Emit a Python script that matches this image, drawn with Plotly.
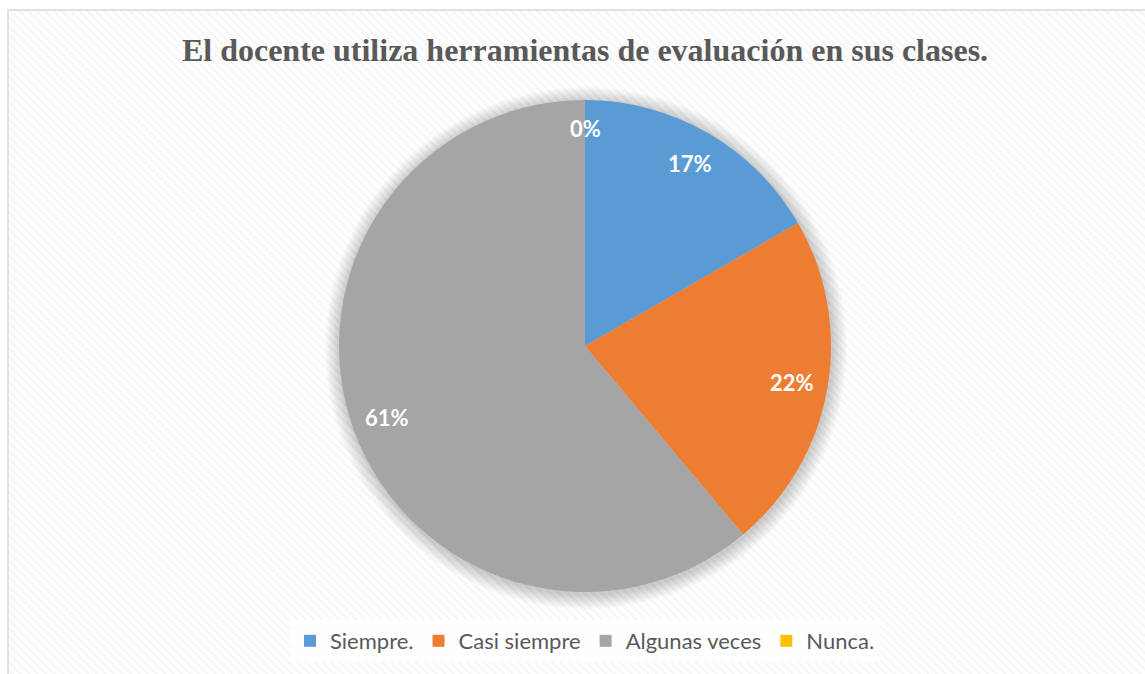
import math
import plotly.graph_objects as go

# Data
categories = ["Siempre.", "Casi siempre", "Algunas veces", "Nunca."]
counts = [3, 4, 11, 0]
colors = ["#5B9BD5", "#ED7D31", "#A5A5A5", "#FFC000"]
title_text = "El docente utiliza herramientas de evaluación en sus clases."

W, H = 1145, 674
cx, cy, R = 585, 328, 246  # pie centre (px from bottom-left) and radius

fig = go.Figure()

# Hatched chart-area background
bx0, by1 = 8, H - 10
fig.add_trace(go.Scatter(
    x=[bx0, W + 5, W + 5, bx0, bx0], y=[-5, -5, by1, by1, -5],
    mode="lines", fill="toself", line=dict(width=0),
    fillcolor="white",
    fillpattern=dict(shape="\\", fgcolor="#ececec", bgcolor="white", size=6, solidity=0.4),
    hoverinfo="skip", showlegend=False))

# Soft shadow around the pie
for i in range(10, 0, -1):
    r = R + i * 1.5
    ang = [k * 2 * math.pi / 180 for k in range(181)]
    fig.add_trace(go.Scatter(
        x=[cx + 1 + r * math.cos(a) for a in ang],
        y=[cy - 2 + r * math.sin(a) for a in ang],
        mode="lines", fill="toself", line=dict(width=0),
        fillcolor="rgba(0,0,0,0.018)", hoverinfo="skip", showlegend=False))

fig.update_xaxes(range=[0, W], visible=False, domain=[0, 1], fixedrange=True)
fig.update_yaxes(range=[0, H], visible=False, domain=[0, 1], fixedrange=True)

total = sum(counts)
texts = [f"{round(100 * c / total)}%" for c in counts]

fig.add_trace(go.Pie(
    labels=categories, values=counts, sort=False, direction="clockwise", rotation=0,
    marker=dict(colors=colors, line=dict(width=0)),
    textinfo="none",
    domain=dict(x=[(cx - R) / W, (cx + R) / W], y=[(cy - R) / H, (cy + R) / H]),
    showlegend=True, hoverinfo="label+percent"))

# Data labels placed along each slice's mid-angle (Excel-like "best fit")
label_font = dict(family="Lato, Open Sans, sans-serif", size=22, color="white", weight="bold")
cum = 0
for c, t in zip(counts, texts):
    mid = (cum + c / 2) / total * 2 * math.pi  # clockwise from 12 o'clock
    cum += c
    rr = R * (0.885 if c == 0 else 0.855)
    fig.add_annotation(
        x=(cx + rr * math.sin(mid)) / W, y=(cy + rr * math.cos(mid)) / H,
        xref="paper", yref="paper", xanchor="center", yanchor="middle",
        text=t, showarrow=False, font=label_font)

fig.add_shape(type="rect", xref="paper", yref="paper",
              x0=bx0 / W, x1=(W + 5) / W, y0=-0.01, y1=by1 / H,
              line=dict(color="#d9d9d9", width=1.5), fillcolor="rgba(0,0,0,0)")

fig.update_layout(
    width=W, height=H, autosize=False,
    margin=dict(l=0, r=0, t=0, b=0),
    paper_bgcolor="white", plot_bgcolor="white",
    title=dict(text=f"<b>{title_text}</b>", x=585 / W, xanchor="center",
               y=(H - 50) / H, yanchor="middle",
               font=dict(family="Liberation Serif, Times New Roman, serif", size=32, color="#595959")),
    legend=dict(orientation="h", x=585 / W, xanchor="center", y=33 / H, yanchor="middle",
                bgcolor="rgba(255,255,255,0.85)", borderwidth=0,
                font=dict(family="Lato, Open Sans, sans-serif", size=22, color="#595959"),
                itemwidth=30, tracegroupgap=0),
)

fig.write_html("out.html", config={"displayModeBar": False},
               post_script="document.body.style.margin='0';")
